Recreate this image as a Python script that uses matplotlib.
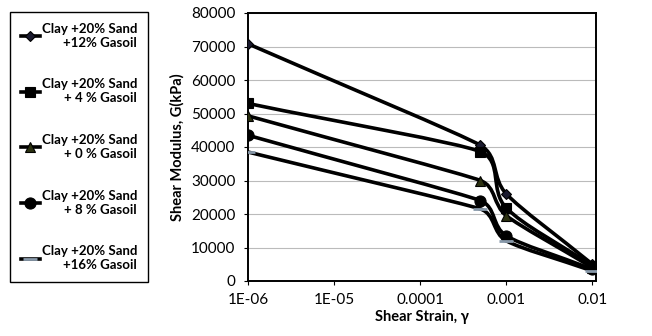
#!/usr/bin/env python

"""
Shear modulus vs shear strain for clay + sand + gasoil mixtures
"""

import numpy as np
import matplotlib
matplotlib.use('Agg')
import matplotlib.pyplot as plt
from matplotlib.path import Path
from matplotlib.patches import PathPatch
from matplotlib.lines import Line2D

plt.rcParams['font.family'] = ['Lato', 'DejaVu Sans']

strain = [1e-6, 5e-4, 1e-3, 1e-2]
labels = ['Clay +20% Sand\n+12% Gasoil',
          'Clay +20% Sand\n+ 4 % Gasoil',
          'Clay +20% Sand\n+ 0 % Gasoil',
          'Clay +20% Sand\n+ 8 % Gasoil',
          'Clay +20% Sand\n+16% Gasoil']
g_12 = [70800, 40500, 26000, 5000]
g_4 = [53000, 38600, 21800, 4500]
g_0 = [49300, 30000, 19500, 4000]
g_8 = [43500, 24000, 13500, 3500]
g_16 = [38500, 21500, 12000, 3000]
yticks = [0, 10000, 20000, 30000, 40000, 50000, 60000, 70000, 80000]
xticks = [1e-6, 1e-5, 1e-4, 1e-3, 1e-2]
xticklabels = ['1E-06', '1E-05', '0.0001', '0.001', '0.01']

series = [g_12, g_4, g_0, g_8, g_16]
markers = ['D', 's', '^', 'o', '_']
msizes = [5, 7, 7, 8, 10]
mcolors = ['#1a1a2e', 'black', '#2b3010', 'black', '#8899aa']


def smooth_path(x, y, px_dec=86.0, px_val=268.0 / 80000, k=0.4):
    # Excel-like smoothed line, tangents worked out in screen-like units
    u = np.log10(x) * px_dec
    v = np.asarray(y, dtype=float) * px_val
    p = np.column_stack([u, v])
    n = len(p)
    seg = [np.hypot(*(p[i + 1] - p[i])) for i in range(n - 1)]
    tang = []
    for i in range(n):
        d = p[min(i + 1, n - 1)] - p[max(i - 1, 0)]
        tang.append(d / np.hypot(*d))
    verts = [(x[0], y[0])]
    codes = [Path.MOVETO]
    for i in range(n - 1):
        l1 = min(seg[i], seg[i - 1]) if i > 0 else seg[i]
        l2 = min(seg[i], seg[i + 1]) if i + 1 < n - 1 else seg[i]
        c1 = p[i] + tang[i] * l1 * k
        c2 = p[i + 1] - tang[i + 1] * l2 * k
        for c in (c1, c2):
            verts.append((10 ** (c[0] / px_dec), c[1] / px_val))
        verts.append((x[i + 1], y[i + 1]))
        codes += [Path.CURVE4] * 3
    return Path(verts, codes)


fig = plt.figure(figsize=(6.52, 3.36), dpi=100)
ax = fig.add_axes([248 / 652, 1 - 281 / 336, 348 / 652, 268 / 336])

handles = []
for y, m, ms, mc, lab in zip(series, markers, msizes, mcolors, labels):
    ax.add_patch(PathPatch(smooth_path(strain, y), fill=False,
                           edgecolor='black', lw=2.6, zorder=3))
    mew = 2 if m == '_' else 0.8
    ax.plot(strain, y, ls='none', marker=m, ms=ms, color=mc,
            markeredgecolor=mc if m == '_' else 'black', mew=mew, zorder=4)
    handles.append(Line2D([], [], color='black', lw=2.6, marker=m,
                          ms=ms, markerfacecolor=mc,
                          markeredgecolor=mc if m == '_' else 'black',
                          mew=mew, label=lab))

ax.set_xscale('log')
ax.set_xlim(1e-6, 1.1e-2)
ax.set_ylim(0, 80000)
ax.set_xticks(xticks)
ax.set_xticklabels(xticklabels)
ax.xaxis.set_minor_locator(matplotlib.ticker.NullLocator())
ax.set_yticks(yticks)
ax.yaxis.grid(True, color='#bbbbbb', lw=0.8)
ax.set_axisbelow(True)
for s in ax.spines.values():
    s.set_linewidth(1.4)
ax.tick_params(labelsize=11, length=3, width=0.8, pad=6)
ax.set_xlabel('Shear Strain, γ', fontsize=10.5, fontweight='bold', labelpad=2)
ax.set_ylabel('Shear Modulus, G(kPa)', fontsize=10.5, fontweight='bold', labelpad=5)

leg = fig.legend(handles=handles, loc='upper left',
                 bbox_to_anchor=(10 / 652, 1 - 12 / 336),
                 bbox_transform=fig.transFigure, fontsize=9.5,
                 handlelength=1.5, handletextpad=0.1, labelspacing=2.25,
                 borderpad=0.8, borderaxespad=0, fancybox=False,
                 edgecolor='black', framealpha=1)
leg.get_frame().set_linewidth(1.0)
for t in leg.get_texts():
    t.set_multialignment('right')
    t.set_fontweight('bold')

fig.savefig('out.png', dpi=100)
